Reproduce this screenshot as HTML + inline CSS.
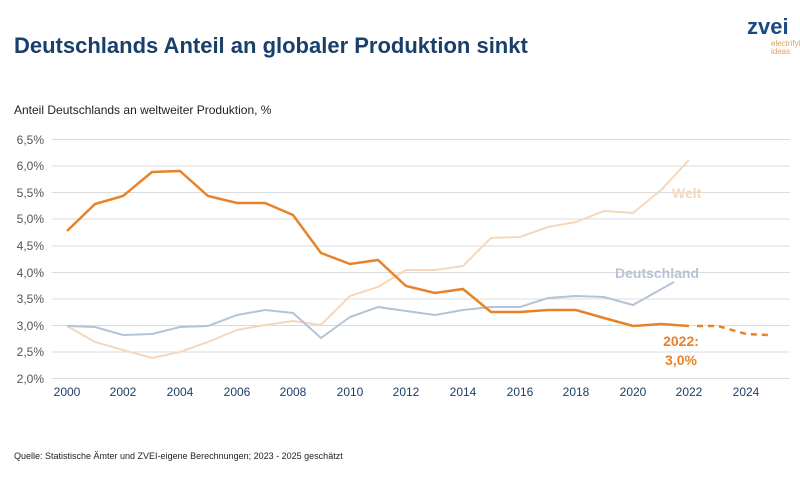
<!DOCTYPE html>
<html><head><meta charset="utf-8"><style>
body{margin:0;background:#fff;width:800px;height:472px;overflow:hidden;font-family:"Liberation Sans",sans-serif}
</style></head><body>
<svg width="800" height="472" xmlns="http://www.w3.org/2000/svg" font-family="Liberation Sans, sans-serif">
<text x="14" y="53" font-size="22" font-weight="bold" fill="#1b3f6b">Deutschlands Anteil an globaler Produktion sinkt</text>
<text x="747" y="34" font-size="22" font-weight="bold" fill="#1b4a80">zvei</text>
<text x="771" y="46" font-size="8" fill="#e0a060">electrifying</text>
<text x="771" y="54" font-size="8" fill="#e0a060">ideas</text>
<text x="14" y="114" font-size="12" fill="#222">Anteil Deutschlands an weltweiter Produktion, %</text>
<g stroke="#dcdcdc" stroke-width="1">
<line x1="52" x2="790" y1="139.5" y2="139.5"/><line x1="52" x2="790" y1="166" y2="166"/>
<line x1="52" x2="790" y1="192.5" y2="192.5"/><line x1="52" x2="790" y1="219" y2="219"/>
<line x1="52" x2="790" y1="246" y2="246"/><line x1="52" x2="790" y1="272.5" y2="272.5"/>
<line x1="52" x2="790" y1="299" y2="299"/><line x1="52" x2="790" y1="325.5" y2="325.5"/>
<line x1="52" x2="790" y1="352" y2="352"/><line x1="52" x2="790" y1="378.5" y2="378.5"/>
</g>
<g font-size="12" fill="#555" text-anchor="end">
<text x="44" y="144">6,5%</text><text x="44" y="170">6,0%</text><text x="44" y="197">5,5%</text>
<text x="44" y="223">5,0%</text><text x="44" y="250">4,5%</text><text x="44" y="277">4,0%</text>
<text x="44" y="303">3,5%</text><text x="44" y="330">3,0%</text><text x="44" y="356">2,5%</text>
<text x="44" y="383">2,0%</text>
</g>
<g font-size="12" fill="#1b3f6b" text-anchor="middle">
<text x="67" y="396">2000</text><text x="123" y="396">2002</text><text x="180" y="396">2004</text>
<text x="237" y="396">2006</text><text x="293" y="396">2008</text><text x="350" y="396">2010</text>
<text x="406" y="396">2012</text><text x="463" y="396">2014</text><text x="520" y="396">2016</text>
<text x="576" y="396">2018</text><text x="633" y="396">2020</text><text x="689" y="396">2022</text>
<text x="746" y="396">2024</text>
</g>
<polyline fill="none" stroke="#f6d7bb" stroke-width="2" points="67,326 95,342 123,350 152,358 180,352 208,342 237,330 265,325 293,321 321,325 350,296 378,287 406,270 435,270 463,266 491,238 520,237 548,227 576,222 604,211 633,213 661,190 689,160"/>
<polyline fill="none" stroke="#b4c3d6" stroke-width="2" points="67,326 95,327 123,335 152,334 180,327 208,326 237,315 265,310 293,313 321,338 350,317 378,307 406,311 435,315 463,310 491,307 520,307 548,298 576,296 604,297 633,305 674,282"/>
<polyline fill="none" stroke="#e8822a" stroke-width="2.5" points="67,231 95,204 123,196 152,172 180,171 208,196 237,203 265,203 293,215 321,253 350,264 378,260 406,286 435,293 463,289 491,312 520,312 548,310 576,310 604,318 633,326 661,324 689,326"/>
<polyline fill="none" stroke="#e8822a" stroke-width="2.5" stroke-dasharray="6,5" points="697,326 718,326 746,334 768,335"/>
<text x="672" y="198" font-size="14" font-weight="bold" fill="#f6d7bb">Welt</text>
<text x="615" y="278" font-size="14" font-weight="bold" fill="#b4c3d6">Deutschland</text>
<text x="681" y="346" font-size="14" font-weight="bold" fill="#e8822a" text-anchor="middle">2022:</text>
<text x="681" y="365" font-size="14" font-weight="bold" fill="#e8822a" text-anchor="middle">3,0%</text>
<text x="14" y="459" font-size="9" fill="#222">Quelle: Statistische Ämter und ZVEI-eigene Berechnungen; 2023 - 2025 geschätzt</text>
</svg>
</body></html>
